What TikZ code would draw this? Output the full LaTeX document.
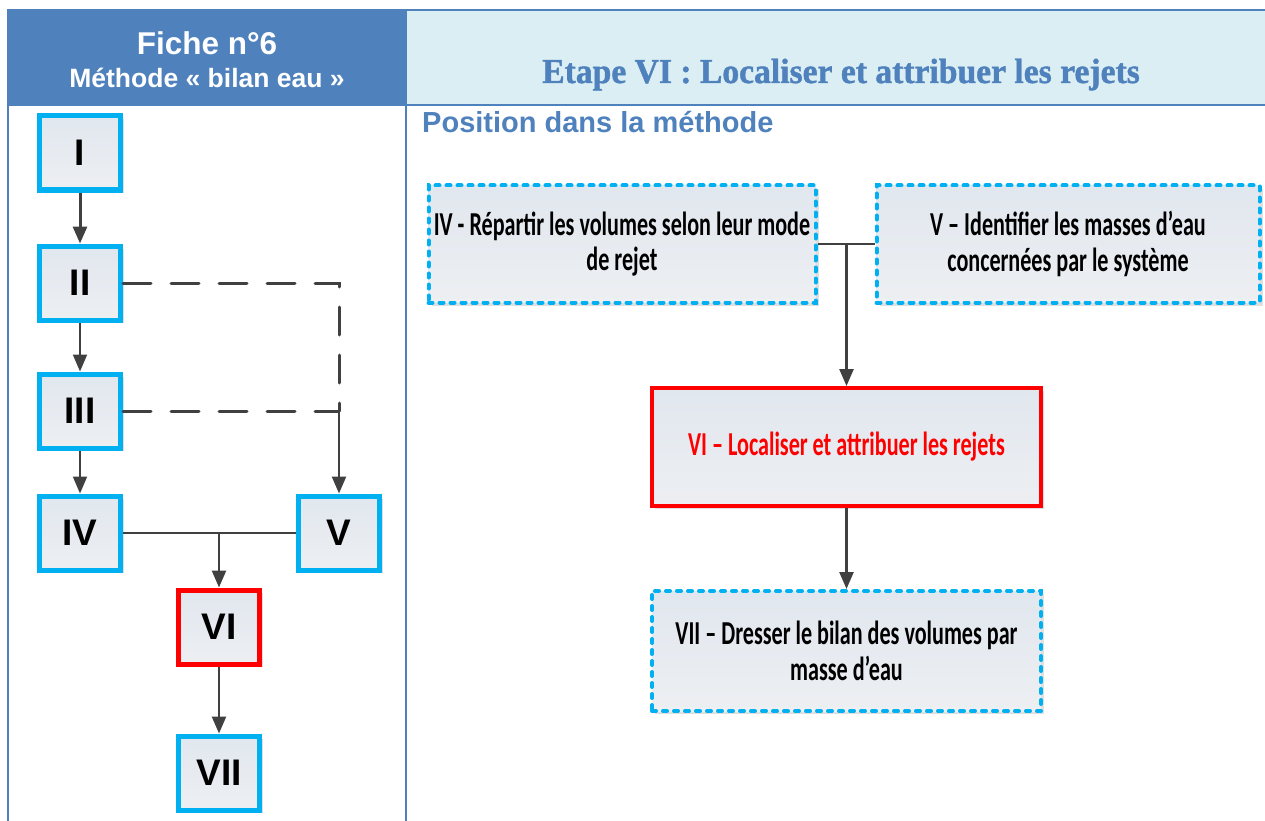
\documentclass[tikz,border=0pt]{standalone}
\usepackage{fontspec}
\setmainfont{Liberation Sans}
\newfontfamily\calibc[FakeStretch=0.66]{Carlito}
\newfontfamily\cambc[FakeStretch=0.96,FakeBold=1.2]{Liberation Serif}
\usetikzlibrary{arrows.meta,shadows,calc}
\definecolor{hdrblue}{HTML}{4F81BD}
\definecolor{hdrlight}{HTML}{DAEEF3}
\definecolor{cyanb}{HTML}{00B0F0}
\definecolor{conn}{HTML}{404040}
\definecolor{fillt}{HTML}{E1E7EF}
\definecolor{fillb}{HTML}{EDEFF2}
\definecolor{redb}{HTML}{FF0000}
\tikzset{
  shad/.style={drop shadow={shadow xshift=3pt,shadow yshift=-3pt,opacity=.25,fill=gray}},
  sbox/.style={draw=cyanb,line width=5pt,minimum width=81pt,minimum height=74pt,
    top color=fillt,bottom color=fillb,shad,inner sep=0pt,
    font=\fontsize{37}{40}\selectfont\bfseries},
  sred/.style={sbox,draw=redb},
  rbox/.style={draw=cyanb,line width=4pt,dash pattern=on 4pt off 7pt,line cap=round,
    top color=fillt,bottom color=fillb,shad,inner sep=0pt,align=center,
    font=\calibc\bfseries\fontsize{33.5}{35.5}\selectfont},
  rred/.style={rbox,draw=redb,solid,line cap=butt,line width=4pt,text=redb},
  conline/.style={draw=conn,line width=2.5pt},
  arr/.style={conline,-{Triangle[width=14pt,length=17pt]}},
  dashline/.style={draw=conn,line width=3pt,dash pattern=on 28pt off 20pt,line cap=round},
}
\begin{document}
\begin{tikzpicture}[x=1pt,y=-1pt]
\useasboundingbox (0,0) rectangle (1265,821);
% header
\fill[hdrblue] (8,10) rectangle (406,105);
\fill[hdrlight] (406,10) rectangle (1265,105);
\draw[hdrblue,line width=2pt] (8,10) -- (1265,10);
\draw[hdrblue,line width=2pt] (8,105) -- (1265,105);
\draw[hdrblue,line width=2pt] (8,9) -- (8,821);
\draw[hdrblue,line width=2pt] (406,9) -- (406,821);
\node[text=white,font=\bfseries\fontsize{31.5}{34}\selectfont] (fiche) at (207,43) {Fiche n°6};
\node[text=white,font=\bfseries\fontsize{26.5}{28}\selectfont] (meth) at (207,78) {Méthode « bilan eau »};
\node[text=hdrblue,font=\cambc\bfseries\fontsize{35}{38}\selectfont,anchor=base] (etape) at (841,83) {Etape VI : Localiser et attribuer les rejets};
\node[text=hdrblue,font=\bfseries\fontsize{29}{30}\selectfont,anchor=base west,inner sep=0pt] (pos) at (422,133) {Position dans la méthode};
% left diagram
\node[sbox] (I) at (80,153) {I};
\node[sbox] (II) at (80,283) {II};
\node[sbox] (III) at (80,411) {III};
\node[sbox] (IV) at (80,533) {IV};
\node[sbox] (V) at (339,533) {V};
\node[sred] (VI) at (219,627) {VI};
\node[sbox] (VII) at (219,773) {VII};
\draw[arr,line width=3pt] (I) -- (II);
\draw[arr,line width=2pt] (II) -- (III);
\draw[arr,line width=2pt] (III) -- (IV);
\coordinate (c1) at (V.north |- II.east);
\coordinate (c2) at (V.north |- III.east);
\draw[dashline] (II.east) -- (c1) -- (c2);
\draw[dashline] (III.east) -- (c2);
\draw[arr] (c2) -- (V.north);
\draw[conline] (IV.east) -- (V.west);
\coordinate (j1) at (VI.north |- IV.east);
\draw[arr] (j1) -- (VI.north);
\draw[arr] (VI) -- (VII);
% right diagram
\node[rbox,minimum width=387pt,minimum height=117pt] (rIV) at (622,244) {IV - Répartir les volumes selon leur mode\\de rejet};
\node[rbox,minimum width=383pt,minimum height=117pt] (rV) at (1068,244) {V – Identifier les masses d’eau\\concernées par le système};
\node[rred,minimum width=389pt,minimum height=118pt] (rVI) at (846.5,447) {VI – Localiser et attribuer les rejets};
\node[rbox,minimum width=389pt,minimum height=120pt] (rVII) at (846.5,651) {VII – Dresser le bilan des volumes par\\masse d’eau};
\draw[conline] (rIV.east) -- (rV.west);
\coordinate (j2) at (rVI.north |- rIV.east);
\draw[arr] (j2) -- (rVI.north);
\draw[arr] (rVI) -- (rVII);
\end{tikzpicture}
\end{document}
